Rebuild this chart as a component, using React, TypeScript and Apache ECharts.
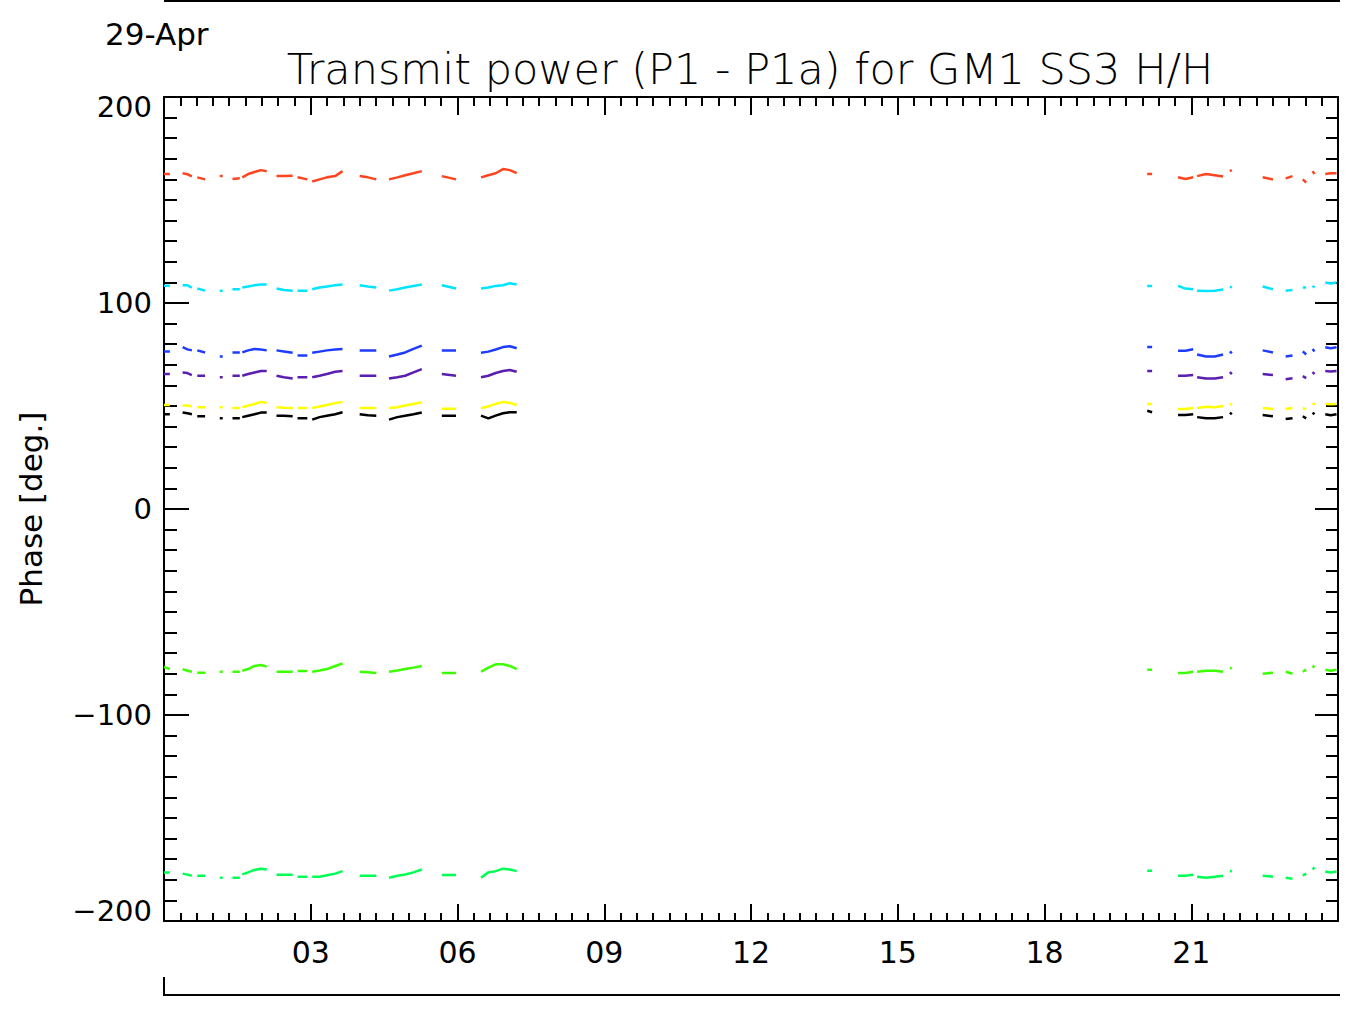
import React, { useEffect, useRef } from "react";
import * as echarts from "echarts";

// Time (hours of day) of each recorded segment; segments are separated by data gaps
const hours: number[][] = [
  [0.0, 0.12], [0.38, 0.48, 0.57], [0.68, 0.84], [1.14, 1.2], [1.4, 1.55],
  [1.6, 1.72, 1.85, 1.98, 2.1], [2.3, 2.45, 2.63], [2.73, 2.93],
  [3.03, 3.18, 3.33, 3.5, 3.65], [4.0, 4.17, 4.34], [4.6, 4.77, 4.93, 5.1, 5.27],
  [5.68, 5.97], [6.48, 6.63, 6.78, 6.93, 7.07, 7.21],
  [20.1, 20.2], [20.73, 20.88, 21.04], [21.12, 21.3, 21.48, 21.65], [21.79, 21.83],
  [22.46, 22.67], [22.93, 23.07], [23.28, 23.35], [23.48, 23.52], [23.74, 23.85, 23.97],
];

const red: number[][] = [
  [162.6, 162.6], [163, 162.5, 161.5], [161, 160], [161.6, 161.6], [160.2, 160.5],
  [161, 162.6, 163.6, 164.5, 164], [161.6, 161.6, 161.8], [161, 160],
  [159, 160, 161, 161.6, 164], [161.6, 161, 160], [160, 161, 162, 163, 164],
  [161.6, 160], [161, 162, 163, 165, 164.5, 163],
  [162.6, 162.6], [161, 160.2, 161], [161.6, 162.6, 162, 161.4], [164, 164.5],
  [161, 160], [160.5, 161.6], [160, 158.5], [164, 162.6], [162.6, 163, 163],
];

const cyan: number[][] = [
  [108.4, 108.4], [108.6, 108.6, 107.5], [107, 106], [106, 106], [106.7, 106.7],
  [107.5, 108, 108.6, 109, 109], [107, 106.3, 106], [106, 106],
  [106.7, 107.5, 108, 108.6, 109], [108.6, 108, 107.5], [106, 106.7, 107.5, 108.3, 109],
  [108.6, 107], [107, 107.5, 108.3, 108.6, 109.6, 109],
  [108.3, 108.3], [108.3, 107, 106.7], [106, 105.8, 106, 106.5], [108, 107.5],
  [108, 106.7], [106, 106.3], [107.5, 107.5], [108.3, 107.5], [110, 109.5, 110],
];

const blue: number[][] = [
  [76.4, 76.4], [78.6, 77.5, 77], [77, 76], [74, 74], [76, 76],
  [76, 77, 77.7, 77.4, 77], [77, 76.5, 75.8], [74.5, 74.5],
  [75.8, 76.4, 77, 77.4, 77.7], [77, 77, 77], [74, 75, 76, 77.7, 79.3],
  [77, 77], [75.8, 76.4, 77.4, 78.6, 79, 78],
  [78.6, 78.6], [76.8, 76.8, 77.5], [75, 74, 74, 75], [76.5, 75.5],
  [77, 76], [74, 74.5], [76.5, 75], [77.7, 76.5], [78.5, 78, 78.5],
];

const purple: number[][] = [
  [65.5, 65.5], [66.3, 66, 65], [64.7, 64.7], [63.9, 63.9], [64.7, 64.7],
  [64.7, 65.5, 66.3, 67, 67], [64.7, 64, 63.4], [64, 64],
  [64, 64.7, 65.5, 66.6, 67], [64.7, 64.7, 64.7], [63.4, 64, 64.7, 66.3, 67.9],
  [65.5, 64.7], [64, 64.7, 66, 67, 67.5, 66.6],
  [67, 67], [64.7, 64.7, 65], [64, 63.3, 63.3, 64], [66.5, 65.5],
  [65.5, 65], [63, 63.5], [64.5, 63.5], [66.5, 65.5], [67, 66.8, 67],
];

const yellow: number[][] = [
  [50.5, 50.5], [50.2, 50.2, 49.8], [49.4, 49.4], [49.4, 49.4], [49, 49],
  [49.4, 50.2, 51, 52, 51.5], [49.4, 49.2, 49], [49, 49],
  [49, 49.8, 50.5, 51.4, 52], [49, 49, 49], [49, 49.4, 50.2, 51, 51.8],
  [48.7, 48.7], [49, 49.8, 51, 52, 51.5, 50.5],
  [51, 51], [48.5, 48.5, 49], [49, 49.6, 49.4, 50], [51, 50.5],
  [49, 48.5], [48.5, 49], [49, 48.5], [51.5, 50.5], [51, 50.8, 51],
];

const black: number[][] = [
  [46, 46], [46.8, 46.5, 46], [45, 45], [44, 44], [44, 44],
  [44.6, 45.3, 46, 46.8, 46.8], [45.3, 45.3, 45], [44, 44],
  [43.4, 44.6, 45.3, 46, 47], [46, 45.5, 45.3], [43.4, 44.6, 45.3, 46, 46.8],
  [45.3, 45.3], [45.3, 44, 45.3, 46.5, 47, 47],
  [47.7, 47], [45.6, 45.6, 46], [44.6, 44, 44, 44.6], [46.8, 46],
  [45.6, 45], [43.7, 44], [45, 44], [46.8, 46], [46, 45.5, 46],
];

const green: number[][] = [
  [-76.7, -77.7], [-77.7, -78.5, -79], [-79.5, -79.5], [-79, -79], [-79, -79],
  [-78.5, -77.7, -76.2, -75.7, -76.5], [-79, -79, -79], [-78.7, -78.7],
  [-79, -78.4, -77.7, -76.2, -75], [-79, -79.3, -79.6], [-79, -78.4, -77.7, -77, -76.2],
  [-79.6, -79.6], [-79, -77, -75.4, -75.4, -76.2, -77.7],
  [-78, -78], [-79.6, -79.6, -79], [-79, -78.5, -78.5, -79], [-77, -77.5],
  [-80, -79.5], [-79, -80], [-79, -78], [-77, -76], [-78, -78.5, -78],
];

const springGreen: number[][] = [
  [-176.4, -176.4], [-177, -177.5, -178], [-178, -178], [-179, -179], [-179, -179],
  [-177.4, -176.4, -175.2, -174.6, -175], [-177.6, -177.6, -177.6], [-178.5, -178.5],
  [-178.5, -178.5, -177.8, -177, -175.8], [-178, -178, -178], [-179, -178, -177.4, -176.4, -175],
  [-177.7, -177.7], [-179, -176.4, -175.8, -174.6, -175, -175.8],
  [-175.6, -175.6], [-178, -178, -177.5], [-178.5, -179, -178.5, -178], [-175.6, -176],
  [-178, -178.5], [-179, -179.5], [-178, -177], [-175, -174], [-176, -176.5, -176],
];

const seriesValues = [red, cyan, blue, purple, yellow, black, green, springGreen];
const seriesColors = ["#ff4520", "#00e4ff", "#1e3cff", "#5a1eb0", "#ffff00", "#000000", "#3cff00", "#00ff55"];

const xTicks = [0, 3, 6, 9, 12, 15, 18, 21, 24];
const yTicks = [-200, -100, 0, 100, 200];

const titleText = "Transmit power (P1 - P1a) for GM1 SS3 H/H";
const dateText = "29-Apr";
const yName = "Phase [deg.]";

const FONT = "DejaVu Sans";

function buildData(vals: number[][]): (number | null)[][] {
  const out: (number | null)[][] = [];
  hours.forEach((seg, s) => {
    seg.forEach((h, j) => out.push([h, vals[s][j]]));
    out.push([seg[seg.length - 1], null]);
  });
  return out;
}

export default function App() {
  const ref = useRef<HTMLDivElement>(null);
  useEffect(() => {
    document.body.style.margin = "0";
    if (!ref.current) return;
    const chart = echarts.init(ref.current, null, { renderer: "svg" });
    const axisLine = { show: true, onZero: false, lineStyle: { color: "#000", width: 2 } };
    const xCommon = {
      type: "value" as const,
      min: xTicks[0],
      max: xTicks[xTicks.length - 1],
      interval: 3,
      axisLine,
      splitLine: { show: false },
      minorSplitLine: { show: false },
      minorTick: { show: true, splitNumber: 9, length: 8, lineStyle: { color: "#000", width: 2 } },
      axisTick: { show: true, inside: true, length: 17, lineStyle: { color: "#000", width: 2 } },
    };
    const yCommon = {
      type: "value" as const,
      min: yTicks[0],
      max: yTicks[yTicks.length - 1],
      interval: 100,
      axisLine,
      splitLine: { show: false },
      minorSplitLine: { show: false },
    };
    chart.setOption({
      animation: false,
      backgroundColor: "#fff",
      grid: { left: 164, right: 13, top: 97, bottom: 91, containLabel: false },
      xAxis: [
        {
          ...xCommon,
          position: "bottom",
          axisLabel: {
            show: true,
            margin: 16,
            fontSize: 30,
            fontFamily: FONT,
            color: "#000",
            formatter: (v: number) =>
              v === xTicks[0] || v === xTicks[xTicks.length - 1] ? "" : v < 10 ? "0" + v : String(v),
          },
        },
        {
          ...xCommon,
          position: "top",
          axisTick: { show: true, inside: true, length: 18, lineStyle: { color: "#000", width: 2 } },
          minorTick: { show: true, splitNumber: 9, length: 9, lineStyle: { color: "#000", width: 2 } },
          axisLabel: { show: false },
        },
      ],
      yAxis: [
        {
          ...yCommon,
          position: "left",
          axisTick: { show: true, inside: true, length: 25, lineStyle: { color: "#000", width: 2 } },
          minorTick: { show: true, splitNumber: 10, length: 13, lineStyle: { color: "#000", width: 2 } },
          axisLabel: {
            show: true,
            margin: 12,
            fontSize: 29,
            fontFamily: FONT,
            color: "#000",
            formatter: (v: number) => {
              const t = v < 0 ? "\u2212" + Math.abs(v) : String(v);
              if (v === yTicks[yTicks.length - 1]) return "{mx|" + t + "}";
              if (v === yTicks[0]) return "{mn|" + t + "}";
              return t;
            },
            rich: {
              mx: { fontSize: 29, fontFamily: FONT, color: "#000", padding: [20, 0, 0, 0] },
              mn: { fontSize: 29, fontFamily: FONT, color: "#000", padding: [0, 0, 20, 0] },
            },
          },
          name: yName,
          nameLocation: "middle",
          nameRotate: 90,
          nameGap: 118,
          nameTextStyle: { fontSize: 31, fontFamily: FONT, color: "#000" },
        },
        {
          ...yCommon,
          position: "right",
          axisTick: { show: true, inside: true, length: 23, lineStyle: { color: "#000", width: 2 } },
          minorTick: { show: true, splitNumber: 10, length: 12, lineStyle: { color: "#000", width: 2 } },
          axisLabel: { show: false },
        },
      ],
      graphic: [
        {
          type: "text",
          style: {
            text: titleText,
            x: 750,
            y: 69,
            fontSize: 43,
            fontWeight: 300,
            fontFamily: FONT,
            fill: "#000",
            align: "center",
            verticalAlign: "middle",
          },
        },
        {
          type: "text",
          style: {
            text: dateText,
            x: 105,
            y: 34,
            fontSize: 31,
            fontFamily: FONT,
            fill: "#000",
            align: "left",
            verticalAlign: "middle",
          },
        },
        { type: "line", shape: { x1: 164, y1: 1, x2: 1340, y2: 1 }, style: { stroke: "#000", lineWidth: 2 } },
        { type: "line", shape: { x1: 164, y1: 995, x2: 1340, y2: 995 }, style: { stroke: "#000", lineWidth: 2 } },
        { type: "line", shape: { x1: 164, y1: 977, x2: 164, y2: 996 }, style: { stroke: "#000", lineWidth: 2 } },
      ],
      series: seriesValues.map((vals, i) => ({
        type: "line",
        xAxisIndex: 0,
        yAxisIndex: 0,
        data: buildData(vals),
        showSymbol: false,
        symbol: "none",
        connectNulls: false,
        lineStyle: { color: seriesColors[i], width: 2.5 },
        itemStyle: { color: seriesColors[i] },
        clip: true,
      })),
    });
    return () => chart.dispose();
  }, []);
  return <div ref={ref} style={{ width: 1351, height: 1012 }} />;
}
